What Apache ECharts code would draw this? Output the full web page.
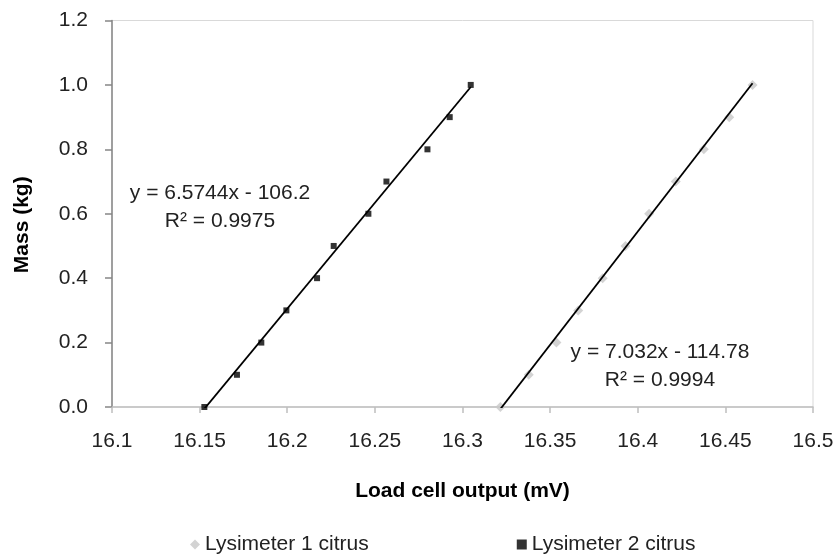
<!DOCTYPE html>
<html><head><meta charset="utf-8">
<script src="https://cdn.jsdelivr.net/npm/echarts@6/dist/echarts.min.js"></script>
<style>html,body{margin:0;padding:0;background:#fff}#c{width:840px;height:558px}</style>
</head><body><div id="c"></div>
<script>
var massKg = [0, 0.1, 0.2, 0.3, 0.4, 0.5, 0.6, 0.7, 0.8, 0.9, 1.0];
var lys1Output = [16.3216, 16.3378, 16.3536, 16.3660, 16.3800, 16.3930, 16.4065, 16.4217, 16.4377, 16.4522, 16.4655];
var lys2Output = [16.1527, 16.1713, 16.1852, 16.1995, 16.2170, 16.2265, 16.2463, 16.2566, 16.2800, 16.2927, 16.3047];
var lys1Fit = [7.032, -114.78];   // slope, intercept
var lys2Fit = [6.5744, -106.2];
var seriesNames = ['Lysimeter 1 citrus', 'Lysimeter 2 citrus'];
var fitLabels = [['y = 7.032x - 114.78', 'R\u00b2 = 0.9994'], ['y = 6.5744x - 106.2', 'R\u00b2 = 0.9975']];

function pts(xs, ys){ return xs.map(function(x,i){return [x, ys[i]];}); }
function fitLine(xs, fit){
  var lo = Math.min.apply(null, xs), hi = Math.max.apply(null, xs);
  return [[lo, fit[0]*lo + fit[1]], [hi, fit[0]*hi + fit[1]]];
}
var FONT = '"Liberation Sans", Arial, sans-serif';
var chart = echarts.init(document.getElementById('c'), null, {renderer:'canvas'});
chart.setOption({
  animation: false,
  backgroundColor: '#fff',
  grid: {left:112, right:27, top:20.5, bottom:151, show:true, borderColor:'#d9d9d9', borderWidth:1},
  xAxis: {
    type:'value', min:16.1, max:16.5, interval:0.05,
    name:'Load cell output (mV)', nameLocation:'middle', nameGap:74,
    nameTextStyle:{fontFamily:FONT, fontSize:21, fontWeight:'bold', color:'#000'},
    axisLine:{lineStyle:{color:'#bfbfbf', width:1.5}},
    axisTick:{show:true, length:6, inside:false, lineStyle:{color:'#bfbfbf', width:1.5}},
    axisLabel:{fontFamily:FONT, fontSize:21, color:'#222', margin:24,
      formatter:function(v){return String(parseFloat(v.toFixed(2)));}},
    splitLine:{show:false}
  },
  yAxis: {
    type:'value', min:0, max:1.2, interval:0.2,
    name:'Mass (kg)', nameLocation:'middle', nameGap:79, nameRotate:90,
    nameTextStyle:{fontFamily:FONT, fontSize:21, fontWeight:'bold', color:'#000', padding:[0,22,0,0]},
    axisLine:{show:true, lineStyle:{color:'#868686', width:1.5}},
    axisTick:{show:true, length:7, lineStyle:{color:'#868686', width:1.5}},
    axisLabel:{fontFamily:FONT, fontSize:21, color:'#222', margin:24,
      formatter:function(v){return v.toFixed(1);}},
    splitLine:{show:false}
  },
  legend: {
    data:[{name:seriesNames[0], icon:'diamond'}, {name:seriesNames[1], icon:'rect'}],
    left:185, top:529, itemWidth:10, itemHeight:10, itemGap:148,
    textStyle:{fontFamily:FONT, fontSize:21, color:'#222'}
  },
  series: [
    {name:seriesNames[0], type:'scatter', data:pts(lys1Output, massKg),
     symbol:'diamond', symbolSize:10, itemStyle:{color:'#c8c8c8'}, z:2},
    {name:seriesNames[1], type:'scatter', data:pts(lys2Output, massKg),
     symbol:'rect', symbolSize:6, itemStyle:{color:'#000'}, z:3},
    {name:'fit1', type:'line', data:fitLine(lys1Output, lys1Fit), symbol:'none',
     lineStyle:{color:'#000', width:1.8}, z:4, silent:true},
    {name:'fit2', type:'line', data:fitLine(lys2Output, lys2Fit), symbol:'none',
     lineStyle:{color:'#000', width:1.8}, z:4, silent:true}
  ],
  graphic: [
    {type:'text', x:220, y:207, style:{text:fitLabels[1].join('\n'), font:'21px '+FONT, fill:'#222',
      textAlign:'center', textVerticalAlign:'middle', lineHeight:28}},
    {type:'text', x:660, y:366, style:{text:fitLabels[0].join('\n'), font:'21px '+FONT, fill:'#222',
      textAlign:'center', textVerticalAlign:'middle', lineHeight:28}}
  ]
});
</script></body></html>
